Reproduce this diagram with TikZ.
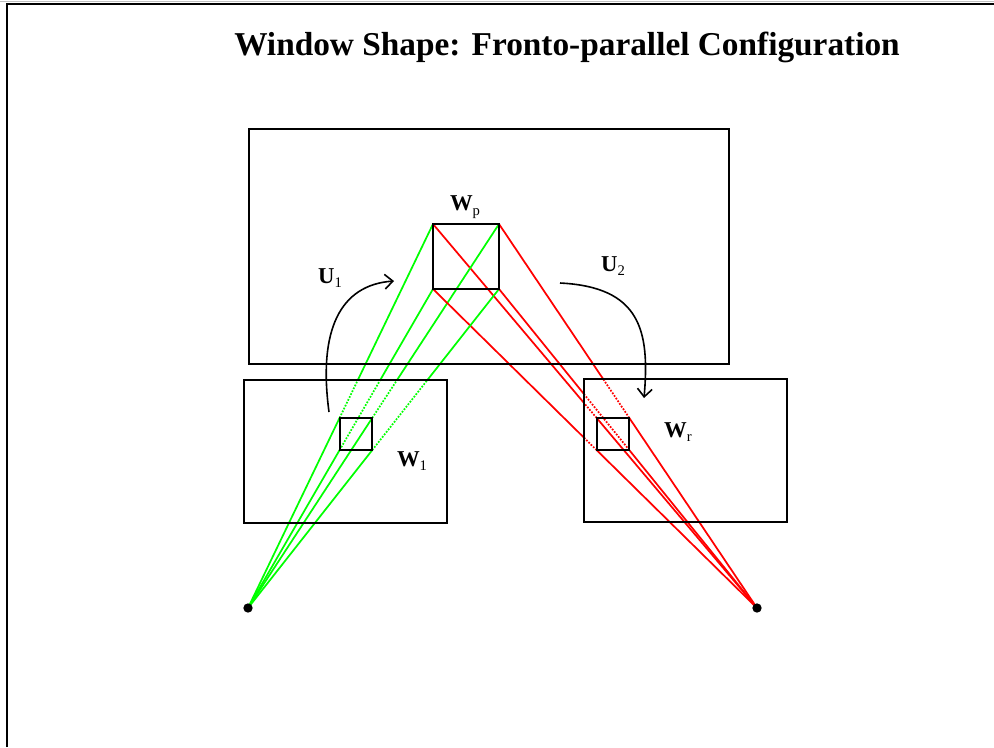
\documentclass[tikz,border=0pt]{standalone}
\usepackage{fontspec}
\setmainfont{Liberation Serif}
\usetikzlibrary{calc,arrows.meta}
\definecolor{lgreen}{RGB}{0,255,0}
\definecolor{lred}{RGB}{255,0,0}
\newcommand{\wlab}[2]{\fontsize{17}{19}\selectfont\textbf{#1}\raisebox{-0.45ex}{\fontsize{11}{12}\selectfont #2}}
\tikzset{
  box/.style={draw=black, line width=1.4pt},
  gline/.style={draw=lgreen, line width=1.3pt},
  rline/.style={draw=lred, line width=1.3pt},
  dotseg/.style={dash pattern=on 1.3pt off 1.1pt},
  eyedot/.style={circle, fill=black, inner sep=0pt, minimum size=7pt},
  curvarrow/.style={draw=black, line width=1.2pt, -{Straight Barb[length=6pt,width=11pt]}},
  lbl/.style={inner sep=0pt}
}
\begin{document}
\begin{tikzpicture}[x=0.75pt,y=-0.75pt]
\useasboundingbox (0,0) rectangle (994,747);
% frame
\draw[gray!50, line width=0.6pt] (0,1) -- (994,1);
\draw[black, line width=1pt] (7,747) -- (7,4) -- (994,4);
% title
\node[anchor=base, inner sep=0pt] (title) at (567,55) {\fontsize{25}{30}\selectfont\bfseries Window Shape: Fronto-parallel Configuration};
% big plane
\coordinate (bTL) at (249,129); \coordinate (bBR) at (729,364);
% left and right image planes
\coordinate (w1TL) at (244,380); \coordinate (w1BR) at (447,523);
\coordinate (wrTL) at (584,379); \coordinate (wrBR) at (787,522);
% window in plane
\coordinate (pTL) at (433,224); \coordinate (pTR) at (499,224);
\coordinate (pBL) at (433,289); \coordinate (pBR) at (499,289);
% eyes
\coordinate (eL) at (248,608); \coordinate (eR) at (757,608);
% projected corners and the points where the rays leave the image planes
\foreach \c/\gf/\rf in {TL/0.59375/0.5340, TR/0.59375/0.5964, BL/0.71473/0.5340, BR/0.71473/0.6705} {
  \coordinate (l\c) at ($(eL)!0.495!(p\c)$);
  \coordinate (r\c) at ($(eR)!0.495!(p\c)$);
  \coordinate (gx\c) at ($(eL)!\gf!(p\c)$);
  \coordinate (rx\c) at ($(eR)!\rf!(p\c)$);
}
% rays
\foreach \c in {TL,TR,BL,BR} {
  \draw[gline] (eL) -- (l\c);
  \draw[gline, dotseg] (l\c) -- (gx\c);
  \draw[gline] (gx\c) -- (p\c);
  \draw[rline] (eR) -- (r\c);
  \draw[rline, dotseg] (r\c) -- (rx\c);
  \draw[rline] (rx\c) -- (p\c);
}
% boxes
\draw[box] (bTL) rectangle (bBR);
\draw[box] (w1TL) rectangle (w1BR);
\draw[box] (wrTL) rectangle (wrBR);
\draw[box] (pTL) rectangle (pBR);
\draw[box] (lTL) rectangle (lBR);
\draw[box] (rTL) rectangle (rBR);
\node[eyedot] (eyeL) at (eL) {};
\node[eyedot] (eyeR) at (eR) {};
% arrows
\coordinate (u1s) at (329,412); \coordinate (u1e) at (394,281);
\draw[curvarrow] (u1s) .. controls (318,330) and (340,285) .. (u1e);
\coordinate (u2s) at (560,283); \coordinate (u2e) at (644,398);
\draw[curvarrow] (u2s) .. controls (640,287) and (650,330) .. (u2e);
% labels
\node[lbl] (lWp) at (465,207) {\wlab{W}{p}};
\node[lbl] (lW1) at (412,461) {\wlab{W}{1}};
\node[lbl] (lWr) at (678,432) {\wlab{W}{r}};
\node[lbl] (lU1) at (330,278) {\wlab{U}{1}};
\node[lbl] (lU2) at (613,266) {\wlab{U}{2}};
\end{tikzpicture}
\end{document}
